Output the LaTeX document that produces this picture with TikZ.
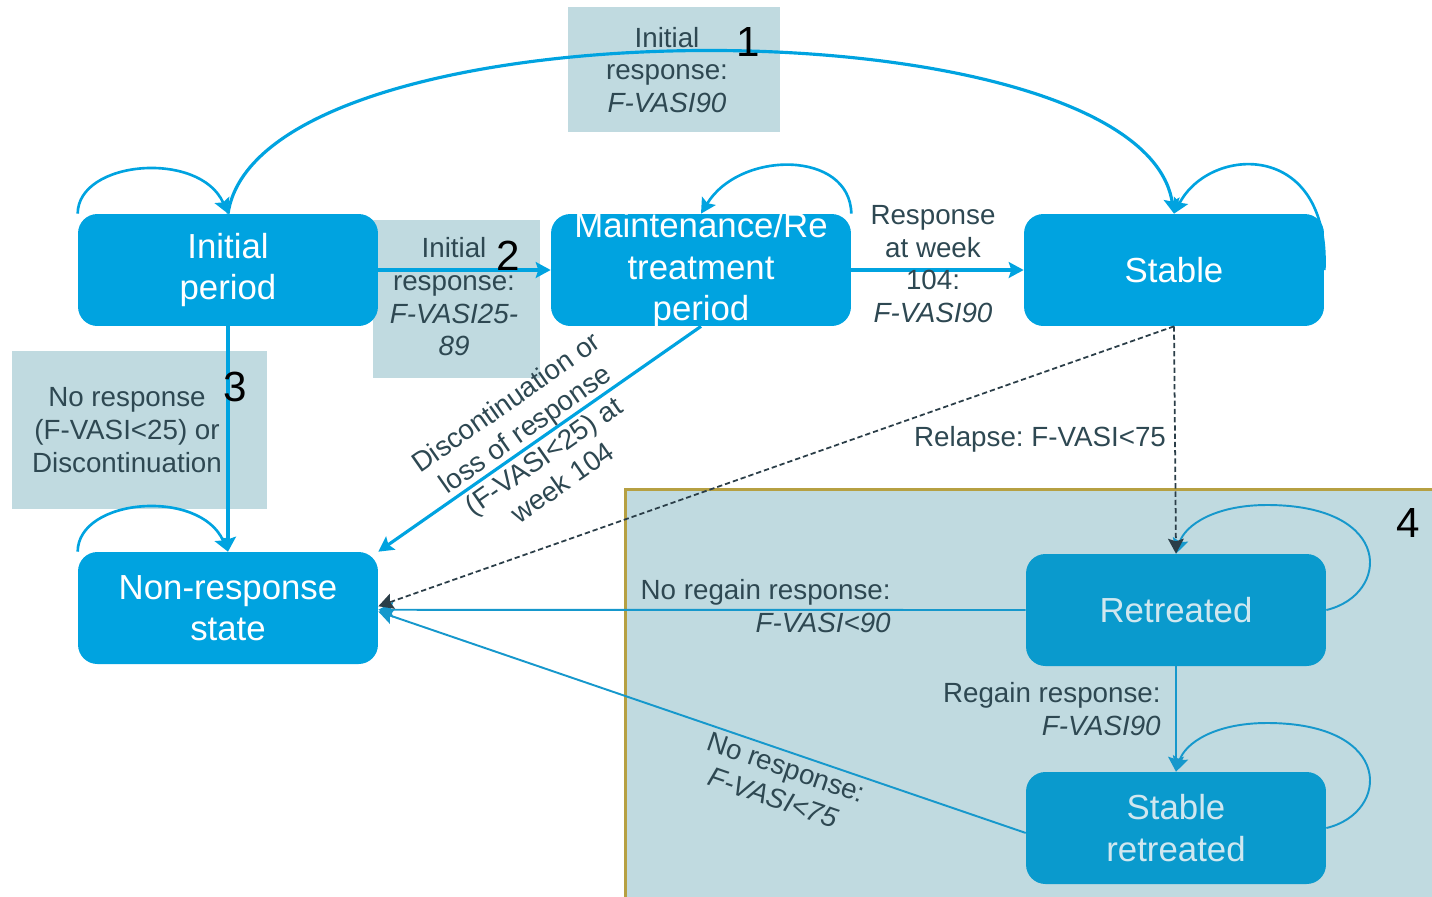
\documentclass[tikz,border=0pt]{standalone}
\usepackage{fontspec}
\setmainfont{Liberation Sans}
\usetikzlibrary{arrows.meta}

\definecolor{stateblue}{RGB}{0,163,224}
\definecolor{retblue}{RGB}{10,154,205}
\definecolor{rettext}{RGB}{208,231,239}
\definecolor{boxgrey}{RGB}{192,218,224}
\definecolor{lbltext}{RGB}{46,72,82}
\definecolor{olive}{RGB}{182,160,66}
\definecolor{darkline}{RGB}{43,62,72}
\definecolor{lowblue}{RGB}{22,152,204}

\newcommand{\statefont}{\fontsize{19.8}{23.4}\selectfont}
\newcommand{\lblfont}{\fontsize{15.8}{18.6}\selectfont}

\tikzset{
  state/.style={fill=stateblue, rounded corners=11pt, minimum width=6cm, minimum height=2.24cm,
    inner sep=0pt, text=white, align=center, font=\statefont},
  retstate/.style={state, fill=retblue, text=rettext},
  tip/.style={-{Stealth[length=8.5pt,width=9pt,inset=1.5pt]}},
  trans/.style={tip, draw=stateblue, line width=1.8pt},
  selfloop/.style={tip, draw=stateblue, line width=1.5pt},
  lowtrans/.style={tip, draw=lowblue, line width=1.1pt},
  relapse/.style={tip, draw=darkline, line width=1pt, dash pattern=on 3pt off 1.7pt},
  lbl/.style={text=lbltext, align=center, font=\lblfont, inner sep=0pt},
  num/.style={text=black, font=\fontsize{24}{28}\selectfont, inner sep=0pt}
}

\begin{document}
\begin{tikzpicture}[x=0.02cm, y=-0.02cm]

    \useasboundingbox (0,0) rectangle (1432,896);

    \filldraw[fill=boxgrey, draw=olive, line width=1.7pt] (625,489) rectangle (1450,915);
    \fill[boxgrey] (568,7) rectangle (780,132);
    \fill[boxgrey] (373,220) rectangle (540,378);
    \fill[boxgrey] (12,351) rectangle (267,509);

    \node[state] at (228,270) (init) {Initial\\period};
    \node[state, inner ysep=-1.5pt] at (701,270) (maint) {Maintenance/Re\\treatment\\period};
    \node[state] at (1174,270) (stable) {Stable};
    \node[state] at (228,608) (nonresp) {Non-response\\state};
    \node[retstate] at (1176,610) (retr) {Retreated};
    \node[retstate] at (1176,828) (stret) {Stable\\retreated};

    \draw[trans] (init.north) .. controls (260,-2) and (1140,-2) .. (stable.north);
    \draw[trans] (init.east) -- (maint.west);
    \draw[trans] (maint.east) -- (stable.west);
    \draw[trans] (init.south) -- (nonresp.north);
    \draw[trans] (maint.south) -- (nonresp.north east);

    \draw[selfloop] (init.north west) .. controls (78,160) and (200,150) .. (init.north);
    \draw[selfloop] (maint.north east) .. controls (850,150) and (740,150) .. (maint.north);
    \draw[selfloop] (stable.east) .. controls (1330,140) and (1210,145) .. (stable.north);
    \draw[selfloop] (nonresp.north west) .. controls (78,498) and (200,488) .. (nonresp.north);
    \draw[lowtrans] (retr.east) .. controls (1390,595) and (1395,505) .. (1267,505)
        .. controls (1215,505) and (1185,525) .. (retr.north);
    \draw[lowtrans] (stret.east) .. controls (1390,813) and (1395,723) .. (1267,723)
        .. controls (1215,723) and (1185,743) .. (stret.north);

    \draw[lowtrans] (retr.west) -- ([yshift=-1pt]nonresp.east);
    \draw[lowtrans] (retr.south) -- (stret.north);
    \draw[lowtrans] ([yshift=-2.8pt]stret.west) -- ([yshift=-2pt]nonresp.east);
    \draw[relapse] (stable.south) -- (retr.north);
    \draw[relapse] (stable.south) -- ([yshift=1pt]nonresp.east);

    \node[lbl] at (667,70) (lbl1) {Initial\\response:\\\textit{F-VASI90}};
    \node[lbl] at (454,297) (lbl2) {Initial\\response:\\\textit{F-VASI25-}\\\textit{89}};
    \node[lbl] at (127,430) (lbl3) {No response\\(F-VASI<25) or\\Discontinuation};
    \node[lbl] at (933,264) (lblwk) {Response\\at week\\104:\\\textit{F-VASI90}};
    \node[lbl, rotate=35] at (534,442) (lbldisc) {Discontinuation or\\loss of response\\(F-VASI<25) at\\week 104};
    \node[lbl] at (1040,439) (lblrel) {Relapse:\ F-VASI<75};
    \node[lbl, align=right, anchor=east] at (891,606) (lblnoreg) {No regain response:\\\textit{F-VASI<90}};
    \node[lbl, align=right, anchor=east] at (1161,709) (lblreg) {Regain response:\\\textit{F-VASI90}};
    \node[lbl, align=left, rotate=-19] at (781,783) (lblnores) {No response:\\\hspace*{7pt}\textit{F-VASI<75}};

    \node[num] at (748,42) (n1) {1};
    \node[num] at (508,256) (n2) {2};
    \node[num] at (235,387) (n3) {3};
    \node[num] at (1408,523) (n4) {4};

\end{tikzpicture}
\end{document}
